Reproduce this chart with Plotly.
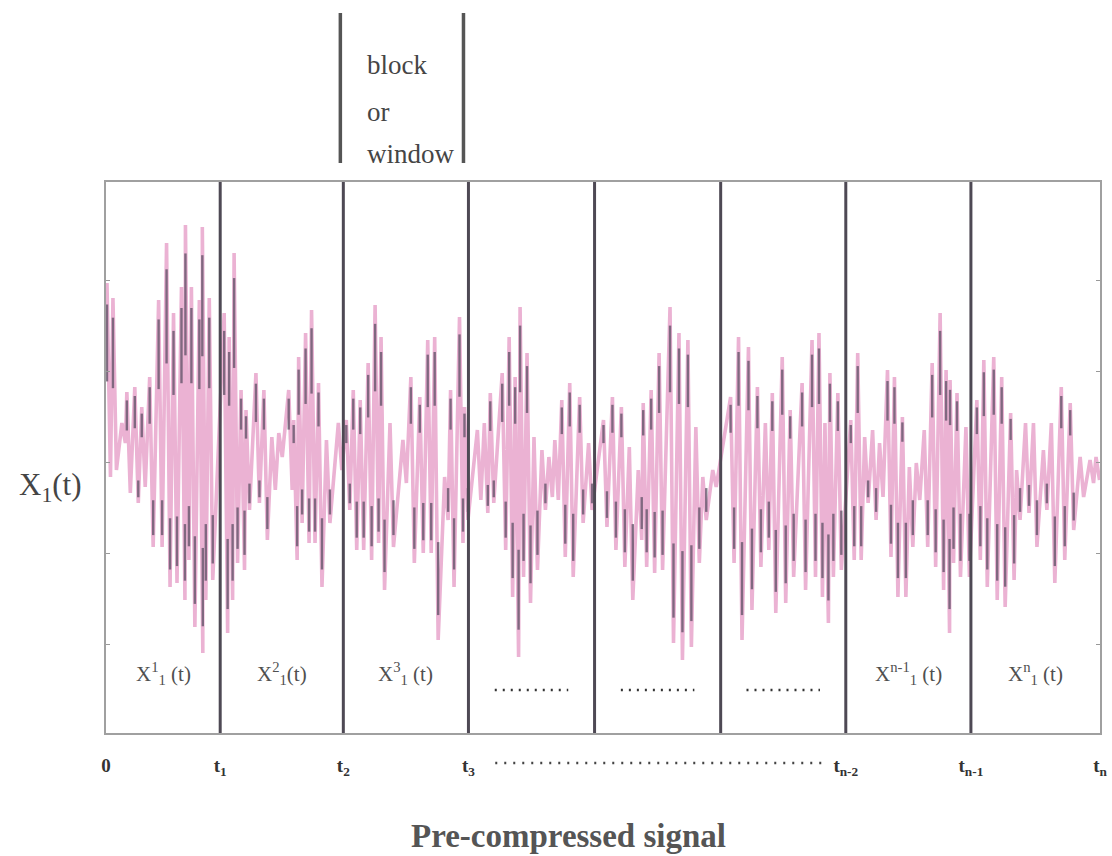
import plotly.graph_objects as go

# ---------------- data ----------------
# block boundaries (time units) and their tick labels
BOUNDS = [0, 115, 239, 365, 492, 619, 745, 871, 1001]
BOUND_LABELS = ["0", "t<sub>1</sub>", "t<sub>2</sub>", "t<sub>3</sub>", "", "",
                "t<sub>n-2</sub>", "t<sub>n-1</sub>", "t<sub>n</sub>"]

BLOCK_LABELS = ["X<sup>1</sup><sub>1</sub> (t)", "X<sup>2</sup><sub>1</sub>(t)",
                "X<sup>3</sup><sub>1</sub> (t)", None, None, None,
                "X<sup>n-1</sup><sub>1</sub> (t)", "X<sup>n</sup><sub>1</sub> (t)"]

# spikes of the pre-compressed signal: time, upper peak, lower trough
SPIKE_T = [1, 7, 16, 21, 29, 36, 44, 53, 61, 68, 76, 80, 86, 94, 97, 104,
           119, 124, 129, 136, 141, 151, 159, 167, 174, 184, 189, 194, 201, 207, 214, 222, 234,
           242, 249, 256, 264, 271, 277, 286, 299, 307, 316, 324, 331, 341, 347, 356, 361,
           374, 381, 387, 399, 406, 412, 417, 424, 431, 439, 446, 452, 459, 467, 477, 486,
           501, 510, 519, 527, 536, 541, 549, 557, 568, 577, 586, 594, 601, 611,
           629, 637, 647, 656, 664, 671, 681, 689, 701, 711, 718, 724, 729, 737,
           750, 757, 764, 772, 779, 787, 794, 802, 809, 816, 824, 832, 840, 846, 850, 857, 866,
           877, 884, 894, 902, 911, 917, 926, 934, 944, 952, 962, 971, 981, 991, 997]
SPIKE_HI = [179, 164, 39, 70, 75, 55, 85, 162, 219, 149, 175, 237, 175, 162, 235, 164,
            149, 125, 209, 72, 52, 89, 72, 25, 29, 72, 42, 105, 129, 152, 79, 22, 39,
            42, 72, 62, 99, 157, 125, 39, 22, 85, 65, 122, 125, -15, 72, 145, 55,
            32, 39, 69, 89, 125, 85, 155, 109, 25, 12, 5, 22, 62, 79, 65, 19,
            42, 65, 55, 15, -8, 59, 72, 109, 155, 129, 122, 35, -15, -8,
            65, 125, 115, 75, 39, 69, 105, 52, 79, 122, 129, 39, 89, 69,
            42, 109, 25, 32, 19, 92, 85, 45, -5, -1, 32, 99, 149, 92, 82, 69, 35,
            62, 102, 105, 85, 49, -8, 39, 39, 12, 39, 75, 59, 5, 2, 5]
SPIKE_LO = [-15, -8, 19, -31, -41, -25, -85, -85, -125, -121, -138, -98, -165, -191, -138, -118,
            -171, -138, -101, -108, -48, -41, -78, -28, 5, -28, -98, -61, -81, -81, -125, -61, -8,
            -48, -88, -88, -98, -81, -128, -85, -21, -101, -91, -91, -178, -58, -125, -81, -58,
            -38, -51, -41, -88, -135, -195, -115, -141, -108, -48, -35, -38, -95, -115, -61, -48,
            -65, -88, -105, -138, -78, -105, -111, -108, -181, -198, -185, -101, -58, -25,
            -101, -178, -148, -105, -88, -151, -141, -115, -128, -115, -135, -161, -115, -108,
            -98, -98, -41, -58, -35, -95, -135, -135, -85, -38, -85, -105, -128, -171, -101, -115, -115,
            -98, -125, -138, -145, -118, -58, -51, -85, -48, -121, -98, -68, -35, -21, -18]

Y_TICKS = [-182, -91, 0, 91, 182]

# ---------------- styling ----------------
W, H = 1112, 856
L, R, T, B = 106, 5, 182, 123
PINK = "#ebb2d3"
DARK = "#5d5065"
DIV = "#4e4954"
TXT = "#454545"
SERIF = "Liberation Serif, Times New Roman, serif"

plot_h = H - T - B
plot_w = W - L - R


def py(px):
    """pixel row -> paper y"""
    return (H - B - px) / plot_h


def pxp(px):
    """pixel column -> paper x"""
    return (px - L) / plot_w


def px_to_t(px):
    return px - L


# pink zig-zag signal
xs, ys = [], []
for t, hi, lo in zip(SPIKE_T, SPIKE_HI, SPIKE_LO):
    xs += [t, t + 3.5]
    ys += [hi, lo]

# darker overlay strokes on the spikes
dx, dy = [], []
for t, hi, lo in zip(SPIKE_T, SPIKE_HI, SPIKE_LO):
    if hi > 40:
        dx += [t, t, None]
        dy += [hi * 0.88, hi * 0.45, None]
    if lo < -40:
        dx += [t + 3.5, t + 3.5, None]
        dy += [lo * 0.45, lo * 0.86, None]

fig = go.Figure()
fig.add_trace(go.Scatter(x=xs, y=ys, mode="lines",
                         line=dict(color=PINK, width=3.6), hoverinfo="skip",
                         showlegend=False))
fig.add_trace(go.Scatter(x=dx, y=dy, mode="lines",
                         line=dict(color=DARK, width=2.4), opacity=0.75,
                         hoverinfo="skip", showlegend=False))

shapes = []
# block dividers
for b in BOUNDS[1:-1]:
    shapes.append(dict(type="line", xref="x", yref="paper", x0=b, x1=b, y0=0, y1=1,
                       line=dict(color=DIV, width=3)))
# "block or window" brackets above the plot
for bpx in (342, 466):
    shapes.append(dict(type="line", xref="x", yref="paper",
                       x0=px_to_t(bpx), x1=px_to_t(bpx), y0=py(163), y1=py(13),
                       line=dict(color="#555555", width=3.5)))
# dotted ellipsis along the time axis
shapes.append(dict(type="line", xref="x", yref="paper",
                   x0=px_to_t(498), x1=px_to_t(828), y0=py(763), y1=py(763),
                   line=dict(color="#444444", width=2.5, dash="2px,7px")))

annotations = []
# block labels
for i, lab in enumerate(BLOCK_LABELS):
    cx = (BOUNDS[i] + BOUNDS[i + 1]) / 2
    if lab is None:
        shapes.append(dict(type="line", xref="x", yref="paper",
                           x0=cx - 37, x1=cx + 37, y0=py(690), y1=py(690),
                           line=dict(color="#333333", width=2.5, dash="2px,6px")))
    else:
        annotations.append(dict(x=cx, y=py(690), xref="x", yref="paper", text=lab,
                                xanchor="center", showarrow=False,
                                font=dict(family=SERIF, size=21, color="#505050")))

# block / or / window
for txt, ypx in (("block", 48), ("or", 95), ("window", 137)):
    annotations.append(dict(x=px_to_t(367), y=py(ypx), xref="x", yref="paper", text=txt,
                            xanchor="left", showarrow=False,
                            font=dict(family=SERIF, size=27, color=TXT)))

# y label
annotations.append(dict(x=pxp(50), y=py(487), xref="paper", yref="paper",
                        xanchor="center", yanchor="middle",
                        text="X<sub>1</sub>(t)", showarrow=False,
                        font=dict(family=SERIF, size=31, color=TXT)))
# bottom caption
annotations.append(dict(x=pxp(572), y=py(836), xref="paper", yref="paper",
                        xanchor="center", yanchor="middle",
                        text="<b>Pre-compressed signal</b>", showarrow=False,
                        font=dict(family=SERIF, size=33, color="#555555")))

fig.update_layout(
    width=W, height=H,
    margin=dict(l=L, r=R, t=T, b=B),
    paper_bgcolor="white", plot_bgcolor="white",
    shapes=shapes, annotations=annotations,
    xaxis=dict(range=[BOUNDS[0], BOUNDS[-1]], tickmode="array", tickvals=BOUNDS,
               ticktext=["<b>%s</b>" % s if s else "" for s in BOUND_LABELS],
               ticks="outside", ticklen=14, tickcolor="rgba(0,0,0,0)",
               ticklabeloverflow="allow",
               tickfont=dict(family=SERIF, size=19, color="#333333"),
               showgrid=False, zeroline=False, showline=True, mirror=True,
               linecolor="#a0a0a0", linewidth=1.5),
    yaxis=dict(range=[-271, 280], tickmode="array", tickvals=Y_TICKS,
               showticklabels=False, ticks="inside", ticklen=4, tickcolor="#999999",
               showgrid=False, zeroline=False, showline=True, mirror="ticks",
               linecolor="#a0a0a0", linewidth=1.5),
)

fig.write_html("out.html", config={"displayModeBar": False},
               post_script="document.body.style.margin='0';document.body.style.overflow='hidden';")
